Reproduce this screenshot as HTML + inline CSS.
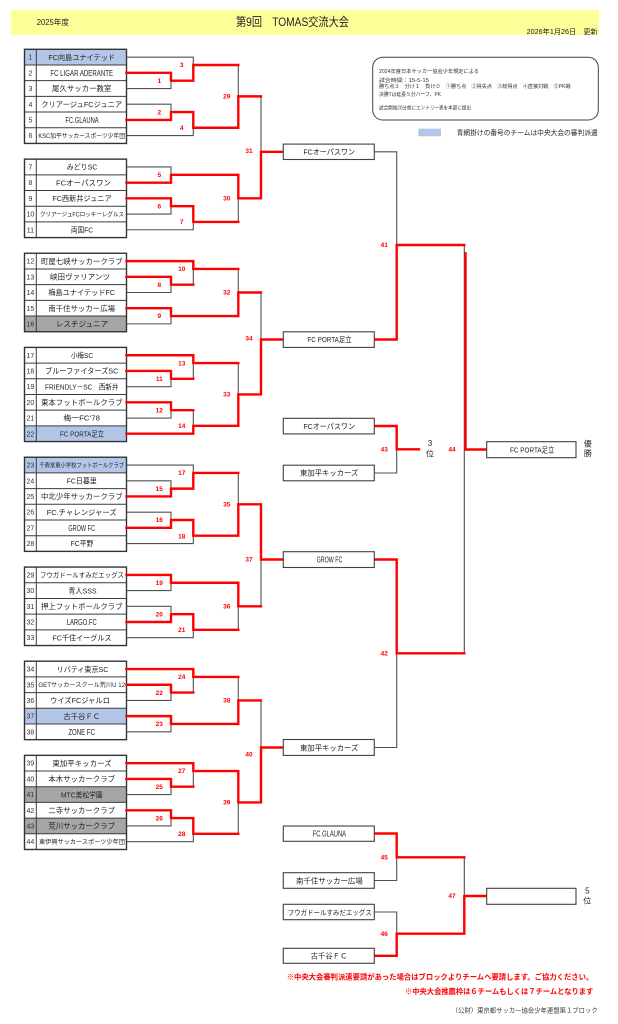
<!DOCTYPE html>
<html><head><meta charset="utf-8"><style>
html,body{margin:0;padding:0;background:#fff;}
svg{display:block;font-family:"Liberation Sans","Noto Sans CJK JP",sans-serif;}
.nm{font-size:7.5px;fill:#222;text-anchor:middle;}
.la{font-size:8.3px;}
.sm{font-size:6px;fill:#222;text-anchor:middle;}
.no{font-size:7px;fill:#333;text-anchor:middle;}
.lb{font-size:6.5px;fill:#ff0000;text-anchor:middle;font-weight:bold;}
.bx{font-size:7.5px;fill:#222;text-anchor:middle;}
.tl{fill:none;stroke:#3c3c3c;stroke-width:1;}
.bk{fill:none;stroke:#505050;stroke-width:1.1;}
.rd{fill:none;stroke:#ff0000;stroke-width:2.4;stroke-linejoin:miter;stroke-linecap:square;}
.info{font-size:5.3px;fill:#333;}
</style></head><body>
<svg width="618" height="1024" viewBox="0 0 618 1024" xmlns="http://www.w3.org/2000/svg">
<!-- header -->
<rect x="11" y="10" width="588" height="25" fill="#ffff99"/>
<text x="36.7" y="25" font-size="8" fill="#222" textLength="32.3" lengthAdjust="spacingAndGlyphs">2025年度</text>
<text x="236" y="26" font-size="12" fill="#222" textLength="113" lengthAdjust="spacingAndGlyphs">第9回　TOMAS交流大会</text>
<text x="526.7" y="34" font-size="7" fill="#222" textLength="71" lengthAdjust="spacingAndGlyphs">2026年1月26日　更新</text>

<!-- info box -->
<rect x="372.7" y="57.3" width="225.6" height="62.7" rx="10" ry="10" fill="#fff" stroke="#444" stroke-width="1"/>
<text class="info" x="379" y="73" textLength="100" lengthAdjust="spacingAndGlyphs">2024年度日本サッカー協会少年規定による</text>
<text class="info" x="379" y="82" textLength="50" lengthAdjust="spacingAndGlyphs">試合時間：15-5-15</text>
<text class="info" x="379" y="88" textLength="191.7" lengthAdjust="spacingAndGlyphs">勝ち点３　分け１　負け０　①勝ち点　②得失点　③総得点　④直接対戦　⑤PK戦</text>
<text class="info" x="379" y="96" textLength="62" lengthAdjust="spacingAndGlyphs">決勝Tは延長５分ハーフ、PK</text>
<text class="info" x="379" y="109.3" textLength="92" lengthAdjust="spacingAndGlyphs">試合開始20分前にエントリー表を本部に提出</text>

<!-- legend -->
<rect x="418.3" y="128.7" width="22.7" height="7.6" fill="#b4c6e7"/>
<text x="456.7" y="135" font-size="6.7" fill="#222" textLength="141" lengthAdjust="spacingAndGlyphs">青網掛けの番号のチームは中央大会の審判派遣</text>

<!-- colored row fills -->
<g>
<rect x="24.5" y="49.3" width="102" height="15.69" fill="#b4c6e7"/>
<rect x="24.5" y="316.03" width="102" height="15.69" fill="#a6a6a6"/>
<rect x="24.5" y="425.86" width="102" height="15.69" fill="#b4c6e7"/>
<rect x="24.5" y="457.24" width="102" height="15.69" fill="#b4c6e7"/>
<rect x="24.5" y="708.28" width="102" height="15.69" fill="#b4c6e7"/>
<rect x="24.5" y="786.73" width="102" height="15.69" fill="#a6a6a6"/>
<rect x="24.5" y="818.11" width="102" height="15.69" fill="#a6a6a6"/>
</g>

<!-- table lines -->
<path class="tl" d="
M24.5,64.99H126.5M24.5,80.68H126.5M24.5,96.37H126.5M24.5,112.06H126.5M24.5,127.75H126.5
M24.5,174.82H126.5M24.5,190.51H126.5M24.5,206.2H126.5M24.5,221.89H126.5
M24.5,268.96H126.5M24.5,284.65H126.5M24.5,300.34H126.5M24.5,316.03H126.5
M24.5,363.1H126.5M24.5,378.79H126.5M24.5,394.48H126.5M24.5,410.17H126.5M24.5,425.86H126.5
M24.5,472.93H126.5M24.5,488.62H126.5M24.5,504.31H126.5M24.5,520H126.5M24.5,535.69H126.5
M24.5,582.76H126.5M24.5,598.45H126.5M24.5,614.14H126.5M24.5,629.83H126.5
M24.5,676.9H126.5M24.5,692.59H126.5M24.5,708.28H126.5M24.5,723.97H126.5
M24.5,771.04H126.5M24.5,786.73H126.5M24.5,802.42H126.5M24.5,818.11H126.5M24.5,833.8H126.5
M36.3,49.3V143.44M36.3,159.13V237.58M36.3,253.27V331.72M36.3,347.41V441.55
M36.3,457.24V551.38M36.3,567.07V645.52M36.3,661.21V739.66M36.3,755.35V849.49"/>
<g fill="none" stroke="#333" stroke-width="1.4">
<rect x="24.5" y="49.3" width="102" height="94.14"/>
<rect x="24.5" y="159.13" width="102" height="78.45"/>
<rect x="24.5" y="253.27" width="102" height="78.45"/>
<rect x="24.5" y="347.41" width="102" height="94.14"/>
<rect x="24.5" y="457.24" width="102" height="94.14"/>
<rect x="24.5" y="567.07" width="102" height="78.45"/>
<rect x="24.5" y="661.21" width="102" height="78.45"/>
<rect x="24.5" y="755.35" width="102" height="94.14"/>
</g>

<!-- numbers -->
<g class="no">
<text x="30.4" y="59.7">1</text><text x="30.4" y="75.4">2</text><text x="30.4" y="91.1">3</text><text x="30.4" y="106.8">4</text><text x="30.4" y="122.5">5</text><text x="30.4" y="138.2">6</text>
<text x="30.4" y="169.5">7</text><text x="30.4" y="185.2">8</text><text x="30.4" y="200.9">9</text><text x="30.4" y="216.6">10</text><text x="30.4" y="232.3">11</text>
<text x="30.4" y="263.7">12</text><text x="30.4" y="279.4">13</text><text x="30.4" y="295.1">14</text><text x="30.4" y="310.8">15</text><text x="30.4" y="326.5">16</text>
<text x="30.4" y="357.8">17</text><text x="30.4" y="373.5">18</text><text x="30.4" y="389.2">19</text><text x="30.4" y="404.9">20</text><text x="30.4" y="420.6">21</text><text x="30.4" y="436.3">22</text>
<text x="30.4" y="467.6">23</text><text x="30.4" y="483.3">24</text><text x="30.4" y="499">25</text><text x="30.4" y="514.7">26</text><text x="30.4" y="530.4">27</text><text x="30.4" y="546.1">28</text>
<text x="30.4" y="577.5">29</text><text x="30.4" y="593.2">30</text><text x="30.4" y="608.9">31</text><text x="30.4" y="624.5">32</text><text x="30.4" y="640.2">33</text>
<text x="30.4" y="671.6">34</text><text x="30.4" y="687.3">35</text><text x="30.4" y="703">36</text><text x="30.4" y="718.7">37</text><text x="30.4" y="734.4">38</text>
<text x="30.4" y="765.7">39</text><text x="30.4" y="781.4">40</text><text x="30.4" y="797.1">41</text><text x="30.4" y="812.8">42</text><text x="30.4" y="828.5">43</text><text x="30.4" y="844.2">44</text>
</g>

<!-- team names -->
<g>
<text class="nm" x="81.7" y="59.85" textLength="66.7" lengthAdjust="spacingAndGlyphs">FC向島ユナイテッド</text>
<text class="nm la" x="81.7" y="75.8" textLength="62.7" lengthAdjust="spacingAndGlyphs">FC LIGAR ADERANTE</text>
<text class="nm" x="81.7" y="91.23" textLength="59.3" lengthAdjust="spacingAndGlyphs">尾久サッカー教室</text>
<text class="nm" x="81.7" y="106.92" textLength="81" lengthAdjust="spacingAndGlyphs">クリアージュFCジュニア</text>
<text class="nm la" x="82" y="122.9" textLength="33.3" lengthAdjust="spacingAndGlyphs">FC.GLAUNA</text>
<text class="sm" x="81.7" y="137.8" textLength="86.7" lengthAdjust="spacingAndGlyphs">KSC加平サッカースポーツ少年団</text>
<text class="nm" x="82" y="169.68" textLength="30.7" lengthAdjust="spacingAndGlyphs">みどりSC</text>
<text class="nm" x="83.5" y="185.37" textLength="55" lengthAdjust="spacingAndGlyphs">FCオーパスワン</text>
<text class="nm" x="82" y="201.06" textLength="59.3" lengthAdjust="spacingAndGlyphs">FC西新井ジュニア</text>
<text class="sm" x="82" y="216.25" textLength="84" lengthAdjust="spacingAndGlyphs">クリアージュFCロッキーレグルス</text>
<text class="nm" x="82" y="232.44" textLength="22.3" lengthAdjust="spacingAndGlyphs">両国FC</text>
<text class="nm" x="81.8" y="263.82" textLength="81.7" lengthAdjust="spacingAndGlyphs">町屋七峡サッカークラブ</text>
<text class="nm" x="80" y="279.51" textLength="60" lengthAdjust="spacingAndGlyphs">峡田ヴァリアンツ</text>
<text class="nm" x="81.7" y="295.2" textLength="66.7" lengthAdjust="spacingAndGlyphs">梅島ユナイテッドFC</text>
<text class="nm" x="81.7" y="310.89" textLength="66.7" lengthAdjust="spacingAndGlyphs">南千住サッカー広場</text>
<text class="nm" x="82" y="326.58" textLength="52.3" lengthAdjust="spacingAndGlyphs">レスチジュニア</text>
<text class="nm" x="82" y="357.96" textLength="22.3" lengthAdjust="spacingAndGlyphs">小梅SC</text>
<text class="nm" x="81.7" y="373.65" textLength="73.3" lengthAdjust="spacingAndGlyphs">ブルーファイターズSC</text>
<text class="nm" x="81.7" y="389.34" textLength="73.3" lengthAdjust="spacingAndGlyphs">FRIENDLY－SC　西新井</text>
<text class="nm" x="81.8" y="405.03" textLength="81.7" lengthAdjust="spacingAndGlyphs">東本フットボールクラブ</text>
<text class="nm" x="81.7" y="420.72" textLength="36.7" lengthAdjust="spacingAndGlyphs">梅一FC’78</text>
<text class="nm" x="82" y="436.41" textLength="44" lengthAdjust="spacingAndGlyphs">FC PORTA足立</text>
<text class="sm" x="81.7" y="467.3" textLength="84.7" lengthAdjust="spacingAndGlyphs">千寿常東小学校フットボールクラブ</text>
<text class="nm" x="81.7" y="483.48" textLength="30" lengthAdjust="spacingAndGlyphs">FC日暮里</text>
<text class="nm" x="81.8" y="499.17" textLength="81.7" lengthAdjust="spacingAndGlyphs">中北少年サッカークラブ</text>
<text class="nm" x="81.7" y="514.86" textLength="70" lengthAdjust="spacingAndGlyphs">FC.チャレンジャーズ</text>
<text class="nm la" x="81.7" y="530.8" textLength="26.7" lengthAdjust="spacingAndGlyphs">GROW FC</text>
<text class="nm" x="82" y="546.24" textLength="22.7" lengthAdjust="spacingAndGlyphs">FC平野</text>
<text class="nm" x="82" y="577.4" textLength="84" lengthAdjust="spacingAndGlyphs" style="font-size:6.8px">フウガドールすみだエッグス</text>
<text class="nm" x="82.5" y="593.31" textLength="28.3" lengthAdjust="spacingAndGlyphs">青人SSS</text>
<text class="nm" x="81.8" y="609" textLength="81.7" lengthAdjust="spacingAndGlyphs">押上フットボールクラブ</text>
<text class="nm la" x="81.7" y="624.9" textLength="30" lengthAdjust="spacingAndGlyphs">LARGO.FC</text>
<text class="nm" x="82" y="640.38" textLength="59.3" lengthAdjust="spacingAndGlyphs">FC千住イーグルス</text>
<text class="nm" x="82.5" y="671.76" textLength="51.7" lengthAdjust="spacingAndGlyphs">リバティ東京SC</text>
<text class="sm" x="81.7" y="686.95" textLength="86.7" lengthAdjust="spacingAndGlyphs">GETサッカースクール荒川U 12</text>
<text class="nm" x="80" y="703.14" textLength="60" lengthAdjust="spacingAndGlyphs">ウイズFCジャルロ</text>
<text class="nm" x="81.7" y="718.83" textLength="36.7" lengthAdjust="spacingAndGlyphs">古千谷ＦＣ</text>
<text class="nm la" x="81.7" y="734.8" textLength="26.7" lengthAdjust="spacingAndGlyphs">ZONE FC</text>
<text class="nm" x="82" y="765.9" textLength="59.3" lengthAdjust="spacingAndGlyphs">東加平キッカーズ</text>
<text class="nm" x="81.7" y="781.59" textLength="66.7" lengthAdjust="spacingAndGlyphs">本木サッカークラブ</text>
<text class="nm" x="81.8" y="797.28" textLength="41.7" lengthAdjust="spacingAndGlyphs">MTC美松学園</text>
<text class="nm" x="81.7" y="812.97" textLength="66.7" lengthAdjust="spacingAndGlyphs">二寺サッカークラブ</text>
<text class="nm" x="81.7" y="828.66" textLength="66.7" lengthAdjust="spacingAndGlyphs">荒川サッカークラブ</text>
<text class="sm" x="82" y="843.85" textLength="86" lengthAdjust="spacingAndGlyphs">東伊興サッカースポーツ少年団</text>
</g>

<!-- black bracket lines -->
<path class="bk" d="
M126.5,57.15H193.3V65
M126.5,88.53H171V80.68
M126.5,104.22H171V112.06
M126.5,135.6H193.3V127.75
M238.3,65V96.37
M261,96.37V151.8
M126.5,166.98H171V174.82
M126.5,214.05H171V206.2
M126.5,229.74H193.3V221.89
M238.3,221.89V198.36
M126.5,292.5H171V284.65
M193.3,284.65V268.96
M126.5,323.88H171V316.03
M238.3,268.96V292.5
M261,292.5V339.5
M126.5,386.64H171V378.79
M193.3,378.79V363.1
M126.5,418.02H171V410.17
M193.3,410.17V425.86
M238.3,363.1V394.48
M126.5,465.09H193.3V472.93
M126.5,480.78H171V488.62
M126.5,512.16H171V520
M126.5,543.54H193.3V535.69
M238.3,472.93V504.31
M126.5,590.61H171V582.76
M126.5,606.3H171V614.14
M126.5,637.68H193.3V629.83
M238.3,629.83V606.3
M261,606.3V559.5
M126.5,700.44H171V692.59
M193.3,692.59V676.9
M126.5,731.82H171V723.97
M238.3,676.9V700.44
M261,700.44V747.5
M126.5,794.58H171V786.73
M193.3,786.73V771.04
M126.5,825.96H171V818.11
M126.5,841.65H193.3V833.8
M238.3,833.8V802.42
M374.3,151.8H396.7V245
M374.3,747.5H396.7V653.3
M464.3,245V653.3
M374.3,473H396.7V449.3
M374.3,880.5H396.7V857.3
M374.3,912H396.7V933.7
M464.3,857.3V896"/>

<!-- red bracket lines -->
<path class="rd" d="
M126.5,72.84H171V80.68H193.3V65H238.3
M126.5,119.91H171V112.06H193.3V127.75H238.3V96.37H261
M126.5,182.67H171V174.82H238.3V198.36H261V151.8H283.3
M126.5,198.36H171V206.2H193.3V221.89H238.3
M126.5,261.12H193.3V268.96H238.3
M126.5,276.81H171V284.65H193.3
M126.5,308.19H171V316.03H238.3V292.5H261
M126.5,355.26H193.3V363.1H238.3
M126.5,370.95H171V378.79H193.3
M126.5,402.33H171V410.17H193.3
M126.5,433.71H193.3V425.86H238.3V394.48H261V339.5H283.3
M126.5,496.47H171V488.62H193.3V472.93H238.3
M126.5,527.85H171V520H193.3V535.69H238.3V504.31H261V559.5H283.3
M126.5,574.92H171V582.76H238.3V606.3H261
M126.5,621.99H171V614.14H193.3V629.83H238.3
M126.5,669.06H193.3V676.9H238.3
M126.5,684.75H171V692.59H193.3
M126.5,716.13H171V723.97H238.3V700.44H261
M126.5,763.2H193.3V771.04H238.3V802.42H261V747.5H283.3
M126.5,778.89H171V786.73H193.3
M126.5,810.27H171V818.11H193.3V833.8H238.3
M374.3,339.5H396.7V245H464.3
M374.3,559.5H396.7V653.3H464.3
M465.5,253.3V449.5H486.7
M374.3,426H396.7V449.3H419
M374.3,833.5H396.7V857.3H464.3
M374.3,955.8H396.7V933.7H464.3V896H486.7"/>

<!-- right-side boxes -->
<g fill="#fff" stroke="#404040" stroke-width="1.1">
<rect x="283.3" y="144.1" width="91" height="15.4"/>
<rect x="283.3" y="331.8" width="91" height="15.6"/>
<rect x="283.3" y="418.3" width="91" height="15.6"/>
<rect x="283.3" y="465.2" width="91" height="15.6"/>
<rect x="283.3" y="551.7" width="91" height="15.8"/>
<rect x="283.3" y="739.5" width="91" height="15.9"/>
<rect x="283.3" y="826" width="91" height="15.3"/>
<rect x="283.3" y="872.7" width="91" height="15.6"/>
<rect x="283.3" y="904.3" width="91" height="15.4"/>
<rect x="283.3" y="948.3" width="91" height="15"/>
<rect x="486.7" y="441.7" width="89.3" height="16"/>
<rect x="486.7" y="888.3" width="89.3" height="16"/>
</g>
<g class="bx">
<text x="329.2" y="154.5" textLength="51.7" lengthAdjust="spacingAndGlyphs">FCオーパスワン</text>
<text x="329.5" y="342.2" textLength="44.3" lengthAdjust="spacingAndGlyphs">FC PORTA足立</text>
<text x="329.2" y="428.8" textLength="51.7" lengthAdjust="spacingAndGlyphs">FCオーパスワン</text>
<text x="329.2" y="475.7" textLength="58.3" lengthAdjust="spacingAndGlyphs">東加平キッカーズ</text>
<text x="329.5" y="562.6" textLength="25.7" lengthAdjust="spacingAndGlyphs" style="font-size:8.3px">GROW FC</text>
<text x="329.2" y="750.3" textLength="58.3" lengthAdjust="spacingAndGlyphs">東加平キッカーズ</text>
<text x="329.4" y="836.6" textLength="33.3" lengthAdjust="spacingAndGlyphs" style="font-size:8.3px">FC.GLAUNA</text>
<text x="329.4" y="883.3" textLength="66.7" lengthAdjust="spacingAndGlyphs">南千住サッカー広場</text>
<text x="329.7" y="914.8" textLength="84" lengthAdjust="spacingAndGlyphs" style="font-size:7px">フウガドールすみだエッグス</text>
<text x="329" y="958.6" textLength="36.7" lengthAdjust="spacingAndGlyphs">古千谷ＦＣ</text>
<text x="532.2" y="452.4" textLength="44.3" lengthAdjust="spacingAndGlyphs">FC PORTA足立</text>
</g>
<g font-size="8" fill="#222" text-anchor="middle">
<text x="430" y="446">3</text><text x="430" y="456.6">位</text>
<text x="587.7" y="446.5">優</text><text x="587.7" y="456">勝</text>
<text x="587.3" y="893.5">5</text><text x="587.3" y="903.5">位</text>
</g>

<!-- match labels -->
<g class="lb">
<text x="159.3" y="82.9">1</text><text x="159.3" y="114.3">2</text><text x="159.3" y="177">5</text><text x="159.3" y="208.4">6</text>
<text x="159.3" y="286.9">8</text><text x="159.3" y="318.2">9</text><text x="159.3" y="381">11</text><text x="159.3" y="412.4">12</text>
<text x="159.3" y="490.8">15</text><text x="159.3" y="522.2">16</text><text x="159.3" y="585">19</text><text x="159.3" y="616.3">20</text>
<text x="159.3" y="694.8">22</text><text x="159.3" y="726.2">23</text><text x="159.3" y="788.9">25</text><text x="159.3" y="820.3">26</text>
<text x="181.7" y="67.2">3</text><text x="181.7" y="130">4</text><text x="181.7" y="224.1">7</text><text x="181.7" y="271.2">10</text>
<text x="181.7" y="365.3">13</text><text x="181.7" y="428">14</text><text x="181.7" y="475.1">17</text><text x="181.7" y="538.5">18</text>
<text x="181.7" y="632">21</text><text x="181.7" y="679.1">24</text><text x="181.7" y="773.2">27</text><text x="181.7" y="836">28</text>
<text x="226.7" y="98.6">29</text><text x="226.7" y="200.6">30</text><text x="226.7" y="294.5">32</text><text x="226.7" y="396.7">33</text>
<text x="226.7" y="506.5">35</text><text x="226.7" y="608.3">36</text><text x="226.7" y="702.6">38</text><text x="226.7" y="804.6">39</text>
<text x="249" y="152.9">31</text><text x="249" y="340.5">34</text><text x="249" y="561.5">37</text><text x="249" y="756.5">40</text>
<text x="384.3" y="247.2">41</text><text x="384.3" y="451.5">43</text><text x="384.3" y="655.5">42</text><text x="384.3" y="859.5">45</text><text x="384.3" y="935.9">46</text>
<text x="452" y="451.5">44</text><text x="452" y="898.2">47</text>
</g>

<!-- footer -->
<text x="286.7" y="979.5" font-size="7.5" font-weight="bold" fill="#ff0000" textLength="306.6" lengthAdjust="spacingAndGlyphs">※中央大会審判派遣要請があった場合はブロックよりチームへ要請します。ご協力ください。</text>
<text x="405" y="993.8" font-size="7.5" font-weight="bold" fill="#ff0000" textLength="188.3" lengthAdjust="spacingAndGlyphs">※中央大会推薦枠は６チームもしくは７チームとなります</text>
<text x="451.7" y="1012.3" font-size="6.3" fill="#333" textLength="146" lengthAdjust="spacingAndGlyphs">（公財）東京都サッカー協会少年連盟第１ブロック</text>
</svg>
</body></html>
